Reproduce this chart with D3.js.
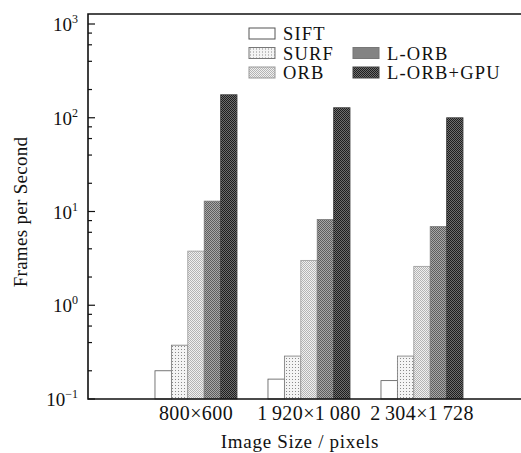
<!DOCTYPE html>
<html>
<head>
<meta charset="utf-8">
<script src="https://cdn.jsdelivr.net/npm/d3@7"></script>
<style>
  body { margin: 0; background: #fff; }
  svg text { font-family: 'Liberation Serif', 'DejaVu Serif', serif; fill: #111; }
</style>
</head>
<body>
<div id="chart"></div>
<script>
// 数据
const groups = ['800×600', '1\u2009920×1\u2009080', '2\u2009304×1\u2009728'];
const series = ['SIFT', 'SURF', 'ORB', 'L-ORB', 'L-ORB+GPU'];
const sift = [0.2, 0.163, 0.157];
const surf = [0.375, 0.287, 0.287];
const orb = [3.78, 3.01, 2.6];
const lorb = [12.9, 8.2, 6.9];
const lorbGpu = [176, 128, 100];
const yTicks = [0.1, 1, 10, 100, 1000];
const yTickExp = ['−1', '0', '1', '2', '3'];

const values = [sift, surf, orb, lorb, lorbGpu];

const W = 521, H = 453;
const padLeft = 88, padTop = 14, axisBottom = 399;

const svg = d3
  .select('#chart')
  .append('svg')
  .attr('width', W)
  .attr('height', H);

// 纹理
const defs = svg.append('defs');
const addChecker = (id, a, b) => {
  const p = defs
    .append('pattern')
    .attr('id', id)
    .attr('width', 2)
    .attr('height', 2)
    .attr('patternUnits', 'userSpaceOnUse');
  p.append('rect').attr('width', 2).attr('height', 2).attr('fill', a);
  p.append('rect').attr('width', 1).attr('height', 1).attr('fill', b);
  p.append('rect').attr('x', 1).attr('y', 1).attr('width', 1).attr('height', 1).attr('fill', b);
};
const surfP = defs
  .append('pattern')
  .attr('id', 'p-surf')
  .attr('width', 3)
  .attr('height', 3)
  .attr('patternUnits', 'userSpaceOnUse');
surfP.append('rect').attr('width', 3).attr('height', 3).attr('fill', '#f4f4f4');
surfP.append('rect').attr('x', 1).attr('y', 1).attr('width', 1).attr('height', 1).attr('fill', '#8a8a8a');
addChecker('p-orb', '#f0f0f0', '#b4b4b4');
addChecker('p-lorb', '#a8a8a8', '#5e5e5e');
addChecker('p-gpu', '#6e6e6e', '#1e1e1e');

const fills = ['#fff', 'url(#p-surf)', 'url(#p-orb)', 'url(#p-lorb)', 'url(#p-gpu)'];
const strokes = ['#555', '#777', '#999', '#777', '#444'];

// 比例尺
const y = d3.scaleLog().domain([0.1, 1000]).range([axisBottom, 24]);

const x = d3
  .scaleBand()
  .domain(groups)
  .range([139.5, 478.5])
  .paddingInner(0.274)
  .paddingOuter(0.137);

const xs = d3.scaleBand().domain(series).range([0, x.bandwidth()]);

// 柱子
const barG = svg.append('g');
series.forEach((s, si) => {
  barG
    .selectAll('rect.s' + si)
    .data(values[si])
    .enter()
    .append('rect')
    .attr('class', 's' + si)
    .attr('x', (d, i) => x(groups[i]) + xs(s))
    .attr('y', (d) => y(d))
    .attr('width', xs.bandwidth())
    .attr('height', (d) => axisBottom - y(d))
    .attr('fill', fills[si])
    .attr('stroke', strokes[si])
    .attr('stroke-width', 0.8);
});

// 坐标轴框
svg
  .append('path')
  .attr('d', `M${W},${padTop}H${padLeft}V${axisBottom}H${W}`)
  .attr('fill', 'none')
  .attr('stroke', '#111')
  .attr('stroke-width', 1.6);

// 刻度
const minor = [];
[0.1, 1, 10, 100].forEach((b) => [2, 4, 6, 8].forEach((m) => minor.push(b * m)));
svg
  .selectAll('line.minor')
  .data(minor)
  .enter()
  .append('line')
  .attr('class', 'minor')
  .attr('x1', padLeft)
  .attr('x2', padLeft + 4)
  .attr('y1', (d) => y(d))
  .attr('y2', (d) => y(d))
  .attr('stroke', '#111')
  .attr('stroke-width', 1.2);
svg
  .selectAll('line.major')
  .data(yTicks)
  .enter()
  .append('line')
  .attr('class', 'major')
  .attr('x1', padLeft)
  .attr('x2', padLeft + 7)
  .attr('y1', (d) => y(d))
  .attr('y2', (d) => y(d))
  .attr('stroke', '#111')
  .attr('stroke-width', 1.2);

const yLab = svg
  .selectAll('text.ylab')
  .data(yTicks)
  .enter()
  .append('text')
  .attr('class', 'ylab')
  .attr('x', 78)
  .attr('y', (d) => y(d) + 7)
  .attr('text-anchor', 'end')
  .style('font-size', '19px');
yLab.append('tspan').text('10');
yLab
  .append('tspan')
  .attr('dy', -8)
  .style('font-size', '12px')
  .text((d, i) => yTickExp[i]);

// x 标签
svg
  .selectAll('text.xlab')
  .data(groups)
  .enter()
  .append('text')
  .attr('class', 'xlab')
  .attr('x', (d) => x(d) + x.bandwidth() / 2)
  .attr('y', 420)
  .attr('text-anchor', 'middle')
  .style('font-size', '20px')
  .style('letter-spacing', '0.4px')
  .text((d) => d);

svg
  .append('text')
  .attr('x', 300)
  .attr('y', 448)
  .attr('text-anchor', 'middle')
  .style('font-size', '19px')
  .style('letter-spacing', '0.7px')
  .text('Image Size / pixels');

svg
  .append('text')
  .attr('transform', 'translate(27,212) rotate(-90)')
  .attr('text-anchor', 'middle')
  .style('font-size', '19px')
  .style('letter-spacing', '0.3px')
  .text('Frames per Second');

// 图例
const legendPos = [
  [249, 28],
  [249, 47.5],
  [249, 67],
  [353, 47.5],
  [353, 67],
];
const lg = svg
  .selectAll('g.legend')
  .data(series)
  .enter()
  .append('g')
  .attr('class', 'legend')
  .attr('transform', (d, i) => `translate(${legendPos[i][0]},${legendPos[i][1]})`);
lg.append('rect')
  .attr('width', 26)
  .attr('height', 11)
  .attr('fill', (d, i) => fills[i])
  .attr('stroke', (d, i) => strokes[i])
  .attr('stroke-width', 1);
lg.append('text')
  .attr('x', 34)
  .attr('y', 12)
  .style('font-size', '18.5px')
  .style('letter-spacing', '1.2px')
  .text((d) => d);
</script>
</body>
</html>
